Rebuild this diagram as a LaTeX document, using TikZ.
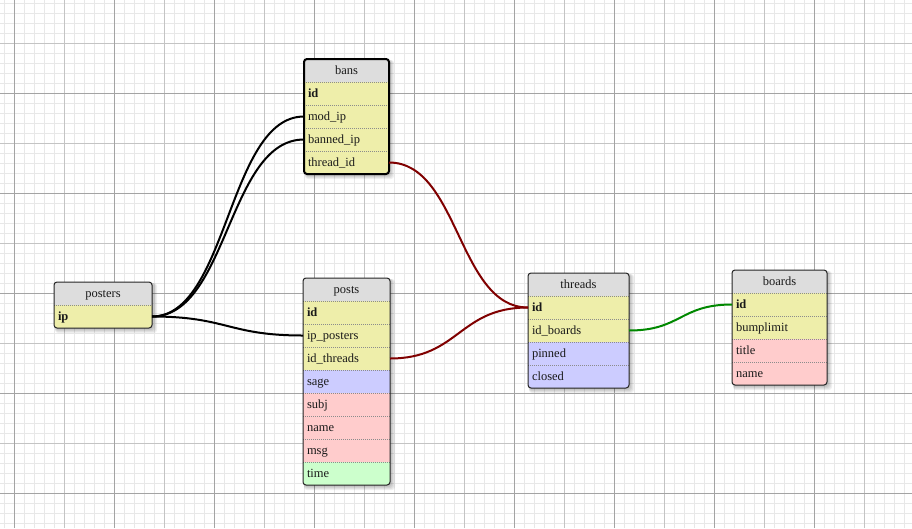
\documentclass[tikz,border=0pt]{standalone}
\usepackage{fontspec}
\setmainfont{Liberation Serif}
\definecolor{hdrc}{HTML}{DDDDDD}
\definecolor{yelc}{HTML}{EEEEAA}
\definecolor{bluc}{HTML}{CCCCFF}
\definecolor{pinkc}{HTML}{FFCCCC}
\definecolor{grnc}{HTML}{CCFFCC}
\definecolor{relred}{HTML}{800000}
\definecolor{relgreen}{HTML}{008800}
\definecolor{gminc}{HTML}{E8E8E8}
\definecolor{gmidc}{HTML}{C4C4C4}
\definecolor{gmajc}{HTML}{A4A4A4}
\tikzset{
  gminor/.style={draw=gminc, line width=1pt},
  gmid/.style={draw=gmidc, line width=1pt},
  gmajor/.style={draw=gmajc, line width=1pt},
  hdr/.style={anchor=north west, fill=hdrc, minimum height=23pt, inner sep=0pt, outer sep=0pt,
    text height=10pt, text depth=1.5pt, font=\fontsize{12.5}{14}\selectfont, text=black!90},
  fld/.style={anchor=north west, minimum height=23pt, inner xsep=4pt, inner ysep=0pt, outer sep=0pt,
    text height=10pt, text depth=1.5pt, align=left, font=\fontsize{12.5}{14}\selectfont, text=black!90},
  sep/.style={draw=black!45, line width=0.8pt, dash pattern=on 1pt off 1pt},
  thinbox/.style={draw=black!85, line width=1pt},
  thickbox/.style={draw=black, line width=2pt},
  conn/.style={line width=2pt},
}
\newcommand\dbtable[8]{%
  \pgfmathsetmacro\tbot{#4+23*(#7+1)}%
  \pgfmathsetmacro\tright{#3+#5}%
  \pgfmathsetmacro\tw{#5-8}%
  \foreach \k in {1,...,5}{\fill[black,opacity=0.06,rounded corners=3pt] (#3+1,#4+1) rectangle (\tright+\k,\tbot+\k);}
  \begin{scope}
    \clip[rounded corners=3pt] (#3,#4) rectangle (\tright,\tbot);
    \node[hdr, minimum width=#5pt] (#2) at (#3,#4) {#6};
    \foreach \f/\t/\c [count=\i] in {#8}{
      \node[fld, fill=\c, minimum width=#5pt, text width=\tw pt] (#2-\f) at (#3,#4+23*\i) {\t};
      \draw[sep] (#2-\f.north west) -- (#2-\f.north east);
    }
  \end{scope}
  \draw[#1, rounded corners=3pt] (#3,#4) rectangle (\tright,\tbot);
}
\begin{document}
\begin{tikzpicture}[x=1pt, y=-1pt]
\useasboundingbox (0,0) rectangle (912,528);
\fill[white] (0,0) rectangle (912,528);
% grid
\foreach \x in {4.5,14.5,...,910} \draw[gminor] (\x,0) -- (\x,528);
\foreach \y in {3.5,13.5,...,527} \draw[gminor] (0,\y) -- (912,\y);
\foreach \x in {64.5,164.5,...,900} \draw[gmid] (\x,0) -- (\x,528);
\foreach \y in {43.5,143.5,...,527} \draw[gmid] (0,\y) -- (912,\y);
\foreach \x in {14.5,114.5,...,900} \draw[gmajor] (\x,0) -- (\x,528);
\foreach \y in {93.5,193.5,...,527} \draw[gmajor] (0,\y) -- (912,\y);
% tables
\dbtable{thickbox}{bans}{304}{59}{85}{bans}{4}{id/\textbf{id}/yelc, mod_ip/mod\_ip/yelc, banned_ip/banned\_ip/yelc, thread_id/thread\_id/yelc}
\dbtable{thinbox}{posters}{54}{282}{98}{posters}{1}{ip/\textbf{ip}/yelc}
\dbtable{thinbox}{posts}{303}{278}{87}{posts}{8}{id/\textbf{id}/yelc, ip_posters/ip\_posters/yelc, id_threads/id\_threads/yelc, sage/sage/bluc, subj/subj/pinkc, name/name/pinkc, msg/msg/pinkc, time/time/grnc}
\dbtable{thinbox}{threads}{528}{273}{101}{threads}{4}{id/\textbf{id}/yelc, id_boards/id\_boards/yelc, pinned/pinned/bluc, closed/closed/bluc}
\dbtable{thinbox}{boards}{732}{270}{95}{boards}{4}{id/\textbf{id}/yelc, bumplimit/bumplimit/yelc, title/title/pinkc, name/name/pinkc}
% relations
\draw[conn, black] (posters-ip.east) .. controls +(76,0) and +(-76,0) .. (bans-mod_ip.west);
\draw[conn, black] (posters-ip.east) .. controls +(76,0) and +(-76,0) .. (bans-banned_ip.west);
\draw[conn, black] (posters-ip.east) .. controls +(75,0) and +(-75,0) .. (posts-ip_posters.west);
\draw[conn, relred] (bans-thread_id.east) .. controls +(70,0) and +(-70,0) .. (threads-id.west);
\draw[conn, relred] (posts-id_threads.east) .. controls +(69,0) and +(-69,0) .. (threads-id.west);
\draw[conn, relgreen] (threads-id_boards.east) .. controls +(52,0) and +(-52,0) .. (boards-id.west);
\end{tikzpicture}
\end{document}
